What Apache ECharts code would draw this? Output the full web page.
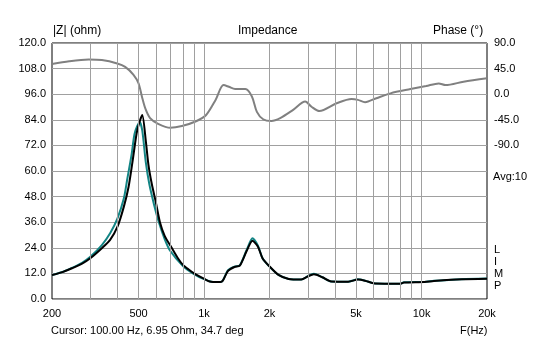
<!DOCTYPE html>
<html><head><meta charset="utf-8">
<script src="https://cdn.jsdelivr.net/npm/echarts@6/dist/echarts.min.js"></script>
<style>html,body{margin:0;padding:0;background:#fff}#c{width:538px;height:341px}</style>
</head><body><div id="c"></div>
<script>
// ---- data ----
var blackFreq = [200,225,247,275,300,339,370,400,428,450,470,490,505,520,540,555,575,600,627,660,710,760,800,850,900,1000,1060,1100,1190,1220,1290,1380,1460,1570,1670,1770,1860,2000,2200,2450,2800,3000,3200,3500,3850,4600,5100,5500,6100,8000,8300,10300,11400,15300,20000];
var blackZ    = [11.2,12.7,14.4,16.6,19.1,23.8,27.7,33.9,43.3,52.6,65.0,77.7,83.0,86.2,74.0,63.0,54.0,45.5,36.0,29.5,24.0,19.0,16.0,13.8,12.0,9.5,8.2,8.0,8.0,8.6,13.2,15.0,15.6,22.5,27.3,24.5,19.0,15.3,11.3,9.4,9.1,10.6,11.6,10.2,8.2,8.1,9.1,8.6,7.3,7.2,7.7,8.0,8.4,9.2,9.5];
var tealFreq  = [200,225,247,275,300,339,370,400,428,443,465,480,506,520,540,560,590,620,660,700,800,900,1000,1100,1190,1220,1290,1380,1460,1570,1670,1770,1860,2000,2200,2450,2800,3000,3200,3500,3850,4600,5100,5500,6100,8000,8300,10300,11400,15300,20000];
var tealZ     = [11.2,12.8,14.6,17.0,19.8,25.3,30.8,37.8,47.2,55.8,68.0,77.7,83.0,79.0,64.0,54.0,44.0,36.0,28.0,22.5,15.5,11.7,9.3,8.0,8.0,8.7,13.5,15.2,15.8,23.0,28.5,25.0,19.0,15.2,11.3,9.4,9.1,10.7,11.8,10.2,8.2,8.1,9.2,8.6,7.3,7.2,7.8,8.0,8.5,9.3,9.6];
var phaseFreq = [200,240,295,339,399,434,474,500,518,537,565,615,700,791,914,1020,1130,1230,1300,1390,1550,1660,1750,1870,2040,2240,2560,2920,3120,3390,4070,4770,5100,5500,6200,7200,8900,10500,12000,12900,15600,20000];
var phaseDeg  = [53,58,61,60,54,48,34,19,-4,-25,-42,-52,-59,-56,-48,-37,-10,16,13,9,9,-4,-31,-44,-47,-42,-28,-13,-22,-29.6,-16,-8.5,-10,-14,-7,1.5,9,14.4,19,16,22,28];
var xTickValues = [200,500,1000,2000,5000,10000,20000];
var xTickLabels = ['200','500','1k','2k','5k','10k','20k'];
var xGridFreqs = [300,400,500,600,700,800,900,1000,2000,3000,4000,5000,6000,7000,8000,9000,10000];

function pairs(f, v){ return f.map(function(x,i){ return [x, v[i]]; }); }

var FONT = 'Liberation Sans';
var chart = echarts.init(document.getElementById('c'), null, {renderer:'canvas'});
chart.setOption({
  animation:false,
  backgroundColor:'#ffffff',
  textStyle:{fontFamily:FONT},
  grid:{left:52,right:51,top:43,bottom:42,show:true,borderColor:'#000',borderWidth:1,backgroundColor:'transparent'},
  xAxis:{
    type:'log', logBase:10, min:200, max:20000,
    axisLine:{show:false}, axisTick:{show:false},
    splitLine:{show:false}, minorSplitLine:{show:false},
    axisLabel:{customValues:xTickValues, color:'#000', fontFamily:FONT, fontSize:11, margin:9,
      formatter:function(v){ var i = xTickValues.indexOf(Math.round(v)); return i>=0 ? xTickLabels[i] : ''; }}
  },
  yAxis:[{
    type:'value', min:0, max:120, interval:12, position:'left',
    axisLine:{show:false}, axisTick:{show:false},
    splitLine:{show:true, lineStyle:{color:'#a0a0a0', width:1}},
    axisLabel:{color:'#000', fontFamily:FONT, fontSize:11, margin:6, formatter:function(v){return v.toFixed(1);}}
  },{
    type:'value', min:-360, max:90, interval:45, position:'right',
    axisLine:{show:false}, axisTick:{show:false}, splitLine:{show:false},
    axisLabel:{color:'#000', fontFamily:FONT, fontSize:11, margin:7, formatter:function(v){ return v >= -90 ? v.toFixed(1) : ''; }}
  }],
  series:[{
    type:'line', yAxisIndex:1, data:pairs(phaseFreq, phaseDeg), showSymbol:false, smooth:0.3,
    lineStyle:{color:'#808080', width:2}, z:2,
    markLine:{silent:true, symbol:['none','none'], label:{show:false},
      lineStyle:{color:'#a0a0a0', width:1, type:'solid'},
      data:xGridFreqs.map(function(f){return {xAxis:f};})}
  },{
    type:'line', data:pairs(tealFreq, tealZ), showSymbol:false, smooth:0.25,
    lineStyle:{color:'#138585', width:2}, z:3
  },{
    type:'line', data:pairs(blackFreq, blackZ), showSymbol:false, smooth:0.25,
    lineStyle:{color:'#000000', width:2}, z:4
  }],
  graphic:[
    {type:'text', left:53, top:25, style:{text:'|Z| (ohm)', font:'12px "Liberation Sans"', fill:'#000'}},
    {type:'text', left:238, top:25, style:{text:'Impedance', font:'12px "Liberation Sans"', fill:'#000'}},
    {type:'text', left:433, top:25, style:{text:'Phase (°)', font:'12px "Liberation Sans"', fill:'#000'}},
    {type:'text', left:493, top:171, style:{text:'Avg:10', font:'11px "Liberation Sans"', fill:'#000'}},
    {type:'text', left:494, top:244, style:{text:'L\nI\nM\nP', font:'11px "Liberation Sans"', lineHeight:12, fill:'#000'}},
    {type:'text', left:51, top:325, style:{text:'Cursor: 100.00 Hz, 6.95 Ohm, 34.7 deg', font:'11px "Liberation Sans"', fill:'#000'}},
    {type:'text', left:460, top:325, style:{text:'F(Hz)', font:'11px "Liberation Sans"', fill:'#000'}}
  ]
});
</script></body></html>
